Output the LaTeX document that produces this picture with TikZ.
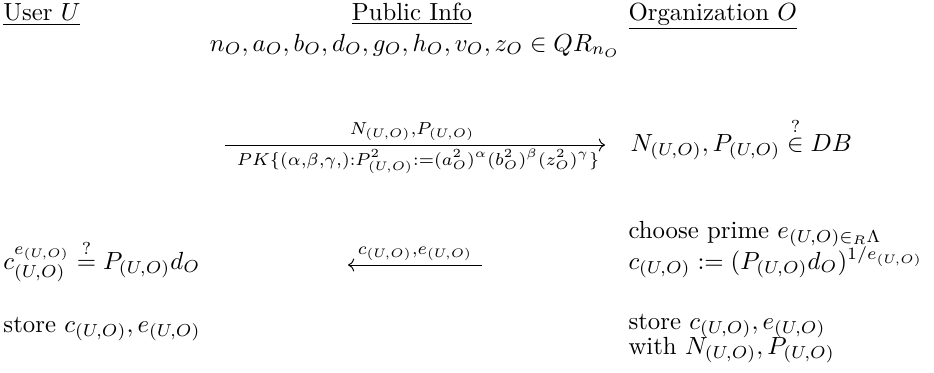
\documentclass[tikz,border=0pt]{standalone}
\usepackage{amsmath}
\usepackage{tikz}
\usetikzlibrary{arrows.meta}
\tikzset{
	party/.style={anchor=base west, inner sep=0pt},
	midtext/.style={anchor=base, inner sep=0pt},
	msglabel/.style={anchor=base, inner sep=0pt}
}
\newcommand{\uo}{_{(U,O)}}

\begin{document}
\begin{tikzpicture}[x=0.4032pt, y=-0.4032pt, >={Computer Modern Rightarrow}]
      \useasboundingbox (0,0) rectangle (934,372);
      % headers
      \node[party] (user) at (3,20) {\underline{User $U$}};
      \node[midtext] (pub) at (412,20) {\underline{Public Info}};
      \node[party] (org) at (628,20) {\underline{Organization $O$}};
      \node[midtext] (pubkeys) at (415,51) {$n_O,a_O,b_O,d_O,g_O,h_O,v_O,z_O\in QR_{n_O}$};
      % first message, user to organization
      \coordinate (m1s) at (225,145);
      \coordinate (m1e) at (605,145);
      \draw[->] (m1s) -- (m1e);
      \node[msglabel] (m1top) at (412,134) {$\scriptstyle N\uo,P\uo$};
      \node[msglabel] (m1bot) at (418,165) {$\scriptstyle PK\{(\alpha,\beta,\gamma,):P^2\uo:=(a_O^2)^\alpha(b_O^2)^\beta(z_O^2)^\gamma\}$};
      \node[party] (check) at (630,151) {$N\uo,P\uo\stackrel{?}{\in}DB$};
      % organization issues the credential
      \node[party] (prime) at (628,238) {choose prime $e_{(U,O)\in_R\Lambda}$};
      \node[party] (cred) at (628,269) {$c\uo:=(P\uo d_O)^{1/e\uo}$};
      \node[party] (verify) at (3,269) {$c\uo^{e\uo}\stackrel{?}{=}P\uo d_O$};
      % second message, organization to user
      \coordinate (m2s) at (482,265);
      \coordinate (m2e) at (348,265);
      \draw[->] (m2s) -- (m2e);
      \node[msglabel] (m2top) at (415,254) {$\scriptstyle c\uo,e\uo$};
      % storage
      \node[party] (storeu) at (3,332) {store $c\uo,e\uo$};
      \node[party] (storeo) at (628,329) {store $c\uo,e\uo$};
      \node[party] (witho) at (628,354) {with $N\uo,P\uo$};
\end{tikzpicture}
\end{document}
